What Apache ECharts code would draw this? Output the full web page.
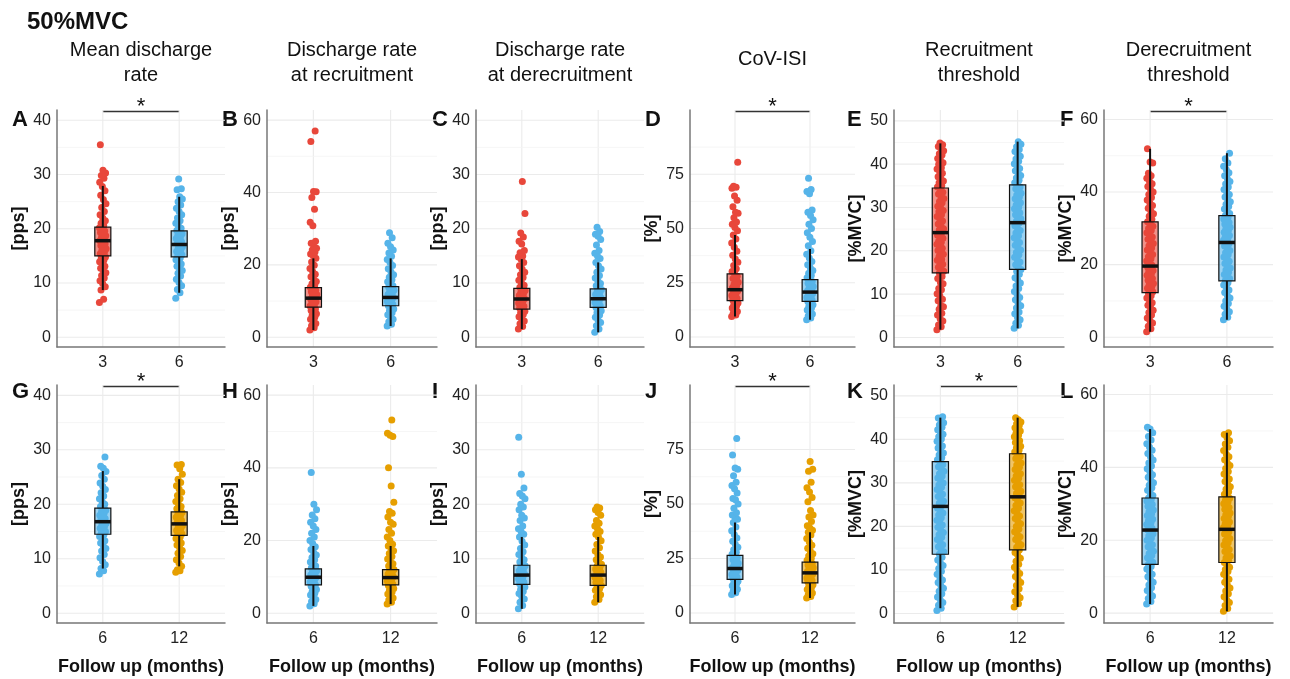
<!DOCTYPE html>
<html>
<head>
<meta charset="utf-8">
<script src="https://cdn.jsdelivr.net/npm/echarts@6/dist/echarts.min.js"></script>
<style>html,body{margin:0;padding:0;background:#fff}#main{width:1290px;height:679px}</style>
</head>
<body>
<div id="main"></div>
<script>
const myChart = echarts.init(document.getElementById('main'));
const FONT = '"Liberation Sans", Arial, Helvetica, sans-serif';

// panel letters, column titles, y axis units
const letters = ['A', 'B', 'C', 'D', 'E', 'F', 'G', 'H', 'I', 'J', 'K', 'L'];
const headers = ['Mean discharge\nrate', 'Discharge rate\nat recruitment', 'Discharge rate\nat derecruitment', 'CoV-ISI', 'Recruitment\nthreshold', 'Derecruitment\nthreshold'];
const yNames = ['[pps]', '[pps]', '[pps]', '[%]', '[%MVC]', '[%MVC]'];
const yTicks = [[0, 10, 20, 30, 40], [0, 20, 40, 60], [0, 10, 20, 30, 40], [0, 25, 50, 75], [0, 10, 20, 30, 40, 50], [0, 20, 40, 60]];
const yRanges = [[-1.8, 41.9], [-2.7, 62.8], [-1.8, 41.9], [-4.6, 104.6], [-2.2, 52.5], [-2.7, 62.6]];
const xLabelsTop = ['3', '6'];
const xLabelsBottom = ['6', '12'];
const sigPanels = ['A', 'D', 'F', 'G', 'J', 'K'];

// box stats: [lower whisker, Q1, median, Q3, upper whisker]
const boxA_3 = [8.7, 15.0, 17.8, 20.3, 27.9];
const boxA_6 = [8.2, 14.8, 17.1, 19.6, 25.9];
const boxB_3 = [2.0, 8.3, 10.8, 13.7, 21.8];
const boxB_6 = [3.1, 8.7, 11.0, 14.0, 21.8];
const boxC_3 = [1.5, 5.2, 7.05, 9.0, 14.4];
const boxC_6 = [0.9, 5.5, 7.1, 8.9, 13.8];
const boxD_3 = [9.5, 16.8, 21.8, 29.1, 47.0];
const boxD_6 = [8.0, 16.4, 20.7, 26.4, 40.5];
const boxE_3 = [1.8, 14.9, 24.2, 34.5, 44.8];
const boxE_6 = [2.1, 15.7, 26.5, 35.2, 45.2];
const boxF_3 = [1.5, 12.3, 19.6, 31.8, 51.9];
const boxF_6 = [4.8, 15.5, 26.1, 33.5, 50.7];
const boxG_6 = [8.2, 14.5, 16.8, 19.3, 26.1];
const boxG_12 = [8.6, 14.3, 16.4, 18.6, 24.6];
const boxH_6 = [2.0, 7.8, 9.9, 12.2, 18.5];
const boxH_12 = [2.5, 7.8, 9.8, 12.0, 18.5];
const boxI_6 = [0.8, 5.3, 7.0, 8.8, 14.0];
const boxI_12 = [2.0, 5.1, 7.0, 8.8, 14.0];
const boxJ_6 = [8.5, 15.4, 20.4, 26.4, 41.5];
const boxJ_12 = [6.9, 13.8, 18.4, 23.3, 37.0];
const boxK_6 = [1.2, 13.6, 24.6, 34.9, 45.0];
const boxK_12 = [1.5, 14.6, 26.8, 36.7, 45.0];
const boxL_6 = [2.5, 13.4, 22.8, 31.6, 50.5];
const boxL_12 = [0.5, 13.9, 23.0, 31.9, 49.5];

// motor unit values
const ptsA_3 = [6.4, 7.0, 8.7, 9.3, 9.9, 10.4, 10.9, 11.4, 11.9, 12.3, 12.7, 13.1, 13.5, 13.9, 14.2, 14.5, 14.8, 15.1, 15.4, 15.7, 16.0, 16.3, 16.6, 16.9, 17.2, 17.5, 17.8, 18.1, 18.4, 18.7, 19.0, 19.3, 19.6, 19.9, 20.2, 20.6, 21.0, 21.5, 22.0, 22.6, 23.2, 23.9, 24.6, 25.4, 26.2, 27.0, 27.8, 28.6, 29.3, 29.8, 30.3, 30.8, 35.5];
const ptsA_6 = [7.2, 8.2, 8.8, 9.5, 10.1, 10.7, 11.3, 11.8, 12.3, 12.7, 13.1, 13.5, 13.9, 14.3, 14.6, 14.9, 15.2, 15.5, 15.8, 16.1, 16.4, 16.7, 17.0, 17.3, 17.6, 17.9, 18.2, 18.5, 18.8, 19.1, 19.4, 19.7, 20.1, 20.5, 21.0, 21.5, 22.0, 22.6, 23.2, 23.8, 24.4, 25.0, 25.5, 25.9, 27.2, 27.4, 29.2];
const ptsB_3 = [2.0, 2.6, 3.2, 3.8, 4.4, 5.0, 5.5, 6.0, 6.5, 7.0, 7.4, 7.8, 8.2, 8.6, 9.0, 9.4, 9.8, 10.2, 10.6, 11.0, 11.4, 11.8, 12.2, 12.6, 13.0, 13.4, 13.8, 14.3, 14.8, 15.4, 16.0, 16.7, 17.4, 18.2, 19.0, 19.9, 20.8, 21.8, 22.5, 23.0, 23.5, 24.1, 24.6, 25.1, 26.0, 26.5, 30.8, 31.8, 35.4, 38.6, 40.2, 40.3, 54.1, 57.0];
const ptsB_6 = [3.1, 3.6, 4.3, 5.0, 5.6, 6.2, 6.8, 7.3, 7.8, 8.3, 8.7, 9.1, 9.5, 9.9, 10.3, 10.7, 11.0, 11.4, 11.8, 12.2, 12.6, 13.0, 13.4, 13.8, 14.2, 14.7, 15.3, 15.9, 16.6, 17.3, 18.1, 18.9, 19.8, 20.7, 21.5, 22.4, 23.3, 24.1, 25.0, 26.0, 27.5, 28.9];
const ptsC_3 = [1.5, 2.0, 2.5, 3.0, 3.4, 3.8, 4.2, 4.5, 4.8, 5.1, 5.4, 5.7, 6.0, 6.3, 6.6, 6.9, 7.1, 7.4, 7.7, 8.0, 8.3, 8.6, 8.9, 9.2, 9.6, 10.0, 10.5, 11.0, 11.5, 12.0, 12.6, 13.2, 13.8, 14.4, 14.8, 15.0, 15.6, 16.0, 17.2, 17.7, 18.5, 19.2, 22.8, 28.7];
const ptsC_6 = [0.9, 1.5, 2.1, 2.7, 3.2, 3.7, 4.1, 4.5, 4.9, 5.2, 5.5, 5.8, 6.1, 6.4, 6.7, 7.0, 7.3, 7.6, 7.9, 8.2, 8.5, 8.8, 9.1, 9.5, 9.9, 10.4, 10.9, 11.4, 12.0, 12.6, 13.2, 13.8, 14.5, 15.0, 15.5, 16.0, 17.0, 18.0, 18.6, 19.0, 19.5, 20.3];
const ptsD_3 = [9.5, 10.2, 11.0, 11.8, 12.6, 13.4, 14.2, 15.0, 15.7, 16.4, 17.0, 17.7, 18.4, 19.1, 19.8, 20.5, 21.2, 21.9, 22.7, 23.5, 24.3, 25.2, 26.1, 27.0, 28.0, 29.0, 30.2, 31.5, 32.9, 34.4, 36.0, 37.7, 39.5, 41.4, 43.3, 45.2, 47.0, 49.0, 50.5, 52.0, 53.0, 55.0, 57.0, 57.5, 60.0, 63.0, 65.0, 68.5, 69.0, 69.5, 80.5];
const ptsD_6 = [8.0, 8.8, 9.7, 10.6, 11.5, 12.4, 13.3, 14.1, 14.9, 15.7, 16.4, 17.0, 17.6, 18.2, 18.8, 19.4, 20.0, 20.6, 21.2, 21.9, 22.6, 23.3, 24.0, 24.8, 25.6, 26.4, 27.3, 28.3, 29.4, 30.6, 31.9, 33.3, 34.8, 36.4, 38.1, 39.8, 42.0, 44.0, 46.0, 48.0, 50.0, 52.0, 54.0, 56.0, 57.5, 58.5, 66.0, 67.0, 68.0, 73.2];
const ptsE_3 = [1.8, 2.5, 2.9, 3.8, 4.3, 5.2, 5.6, 6.5, 7.1, 7.4, 8.5, 8.8, 9.7, 10.1, 11.0, 11.3, 12.4, 12.7, 13.6, 14.1, 14.9, 15.3, 15.9, 16.2, 16.9, 17.1, 17.8, 18.0, 18.7, 19.2, 19.4, 20.1, 20.6, 20.8, 21.5, 22.0, 22.2, 22.9, 23.4, 23.6, 24.3, 24.8, 25.1, 25.9, 26.2, 26.9, 27.2, 27.9, 28.3, 29.0, 29.3, 30.0, 30.3, 31.1, 31.4, 32.1, 32.4, 33.1, 33.5, 34.2, 34.7, 35.0, 35.7, 36.1, 36.8, 37.1, 37.9, 38.2, 38.9, 39.2, 40.0, 40.3, 41.0, 41.3, 42.1, 42.4, 43.1, 43.6, 44.1, 44.5, 44.9];
const ptsE_6 = [2.1, 2.8, 3.3, 4.1, 4.6, 5.5, 5.9, 6.8, 7.3, 7.9, 8.7, 9.2, 10.0, 10.6, 11.3, 11.9, 12.6, 13.3, 13.8, 14.6, 15.2, 15.7, 16.3, 16.8, 17.4, 17.9, 18.5, 19.1, 19.6, 20.2, 20.7, 21.3, 21.9, 22.4, 23.0, 23.5, 24.1, 24.7, 25.2, 25.8, 26.4, 26.9, 27.4, 27.9, 28.3, 28.8, 29.2, 29.7, 30.1, 30.6, 31.1, 31.5, 32.0, 32.4, 32.9, 33.3, 33.8, 34.3, 34.7, 35.2, 35.7, 36.3, 36.8, 37.4, 37.9, 38.5, 39.0, 39.6, 40.1, 40.7, 41.2, 41.8, 42.3, 42.9, 43.4, 44.0, 44.6, 45.2];
const ptsF_3 = [1.5, 2.3, 3.0, 3.9, 4.6, 5.3, 6.1, 6.8, 7.4, 8.2, 8.8, 9.5, 10.1, 10.8, 11.4, 12.0, 12.5, 13.0, 13.5, 13.9, 14.4, 14.8, 15.3, 15.7, 16.2, 16.6, 17.1, 17.5, 18.0, 18.4, 18.9, 19.3, 19.8, 20.4, 21.0, 21.6, 22.2, 22.8, 23.4, 24.0, 24.6, 25.2, 25.8, 26.4, 27.0, 27.6, 28.2, 28.8, 29.4, 30.0, 30.6, 31.2, 31.8, 32.5, 33.3, 34.0, 34.8, 35.5, 36.3, 37.0, 37.8, 38.5, 39.3, 40.0, 40.8, 41.5, 42.3, 43.0, 43.8, 44.5, 45.2, 48.0, 48.3, 51.9];
const ptsF_6 = [4.8, 5.5, 6.3, 7.0, 7.8, 8.5, 9.3, 10.0, 10.8, 11.5, 12.3, 13.0, 13.7, 14.4, 15.0, 15.6, 16.2, 16.8, 17.3, 17.9, 18.5, 19.1, 19.7, 20.3, 20.9, 21.5, 22.1, 22.7, 23.3, 23.9, 24.5, 25.1, 25.7, 26.2, 26.7, 27.1, 27.6, 28.0, 28.5, 28.9, 29.4, 29.8, 30.3, 30.7, 31.2, 31.6, 32.1, 32.6, 33.0, 33.5, 34.1, 34.7, 35.3, 36.0, 36.6, 37.3, 38.0, 38.6, 39.3, 40.0, 40.7, 41.4, 42.2, 42.9, 43.7, 44.5, 45.3, 46.2, 47.1, 48.0, 49.2, 50.7];
const ptsG_6 = [7.2, 7.8, 8.2, 8.9, 9.5, 10.2, 10.8, 11.4, 11.9, 12.4, 12.9, 13.3, 13.7, 14.1, 14.4, 14.7, 15.0, 15.3, 15.6, 15.9, 16.2, 16.5, 16.8, 17.1, 17.4, 17.7, 18.0, 18.3, 18.6, 18.9, 19.2, 19.6, 20.0, 20.5, 21.0, 21.5, 22.1, 22.7, 23.3, 23.9, 24.6, 25.3, 26.0, 26.6, 27.0, 28.7];
const ptsG_12 = [7.5, 7.8, 8.0, 8.6, 9.2, 9.8, 10.4, 11.0, 11.5, 12.0, 12.5, 12.9, 13.3, 13.7, 14.0, 14.3, 14.6, 14.9, 15.2, 15.5, 15.8, 16.1, 16.4, 16.7, 17.0, 17.3, 17.6, 17.9, 18.2, 18.5, 18.8, 19.2, 19.6, 20.0, 20.5, 21.0, 21.6, 22.2, 22.8, 23.4, 24.0, 24.6, 25.5, 26.5, 27.2, 27.3];
const ptsH_6 = [2.0, 2.6, 3.2, 3.8, 4.4, 5.0, 5.5, 6.0, 6.5, 7.0, 7.4, 7.8, 8.2, 8.6, 9.0, 9.4, 9.8, 10.1, 10.5, 10.9, 11.3, 11.7, 12.1, 12.5, 13.0, 13.5, 14.1, 14.7, 15.3, 16.0, 16.7, 17.5, 18.3, 19.2, 20.0, 21.0, 22.0, 23.0, 24.0, 25.0, 26.0, 27.0, 28.5, 30.0, 38.7];
const ptsH_12 = [2.5, 3.0, 3.6, 4.2, 4.8, 5.3, 5.8, 6.3, 6.8, 7.2, 7.6, 8.0, 8.4, 8.8, 9.2, 9.6, 10.0, 10.4, 10.8, 11.2, 11.6, 12.0, 12.5, 13.0, 13.6, 14.2, 14.9, 15.6, 16.4, 17.2, 18.0, 18.5, 19.0, 20.0, 21.0, 22.0, 23.0, 24.5, 25.0, 26.5, 27.5, 28.0, 30.5, 35.0, 40.0, 48.6, 49.0, 49.5, 53.2];
const ptsI_6 = [0.8, 1.4, 2.0, 2.6, 3.1, 3.6, 4.0, 4.4, 4.8, 5.1, 5.4, 5.7, 6.0, 6.3, 6.6, 6.9, 7.2, 7.5, 7.8, 8.1, 8.4, 8.7, 9.0, 9.4, 9.8, 10.3, 10.8, 11.3, 11.9, 12.5, 13.2, 14.0, 14.5, 15.0, 15.5, 16.0, 17.0, 17.5, 18.0, 19.0, 19.5, 20.0, 21.0, 21.5, 22.0, 23.0, 25.5, 32.3];
const ptsI_12 = [2.0, 2.5, 3.0, 3.4, 3.8, 4.2, 4.5, 4.8, 5.1, 5.4, 5.7, 6.0, 6.3, 6.6, 6.9, 7.2, 7.5, 7.8, 8.1, 8.4, 8.7, 9.0, 9.4, 9.8, 10.3, 10.8, 11.4, 12.0, 12.6, 13.3, 14.0, 14.5, 15.0, 15.5, 16.0, 16.5, 17.0, 18.0, 18.5, 19.0, 19.3, 19.5];
const ptsJ_6 = [8.5, 9.3, 10.1, 10.9, 11.7, 12.5, 13.2, 13.9, 14.6, 15.3, 15.9, 16.5, 17.1, 17.7, 18.3, 18.9, 19.5, 20.1, 20.7, 21.4, 22.1, 22.8, 23.6, 24.4, 25.2, 26.0, 26.9, 27.9, 29.0, 30.2, 31.5, 32.9, 34.4, 36.0, 37.7, 39.5, 41.5, 43.0, 44.0, 45.0, 46.0, 48.0, 50.0, 52.0, 52.5, 55.0, 57.0, 58.5, 60.0, 63.0, 66.0, 66.5, 72.5, 80.0];
const ptsJ_12 = [6.9, 7.6, 8.4, 9.2, 10.0, 10.8, 11.6, 12.3, 13.0, 13.7, 14.3, 14.9, 15.5, 16.0, 16.6, 17.2, 17.8, 18.4, 19.0, 19.6, 20.2, 20.8, 21.4, 22.0, 22.7, 23.4, 24.2, 25.1, 26.1, 27.2, 28.4, 29.7, 31.1, 32.6, 34.2, 35.8, 37.0, 38.0, 39.0, 40.0, 42.0, 44.0, 45.0, 47.0, 51.0, 53.0, 55.5, 57.5, 60.0, 65.0, 66.0, 69.5];
const ptsK_6 = [0.7, 1.2, 1.9, 2.5, 3.2, 3.8, 4.5, 5.1, 5.8, 6.4, 7.1, 7.7, 8.4, 9.0, 9.7, 10.3, 11.0, 11.6, 12.3, 12.9, 13.6, 14.2, 14.7, 15.3, 15.8, 16.4, 17.0, 17.5, 18.1, 18.6, 19.2, 19.8, 20.3, 20.9, 21.4, 22.0, 22.6, 23.1, 23.7, 24.2, 24.8, 25.3, 25.8, 26.4, 26.9, 27.4, 27.9, 28.5, 29.0, 29.5, 30.0, 30.6, 31.1, 31.6, 32.1, 32.7, 33.2, 33.7, 34.2, 34.8, 35.3, 35.8, 36.4, 36.9, 37.4, 38.0, 38.5, 39.0, 39.6, 40.1, 40.6, 41.2, 41.7, 42.2, 42.8, 43.3, 43.8, 44.4, 44.9, 45.2];
const ptsK_12 = [1.5, 2.2, 2.9, 3.6, 4.3, 5.0, 5.7, 6.4, 7.1, 7.8, 8.5, 9.2, 9.9, 10.6, 11.3, 12.0, 12.7, 13.4, 14.0, 14.6, 15.2, 15.8, 16.4, 17.0, 17.6, 18.2, 18.8, 19.4, 20.0, 20.6, 21.2, 21.8, 22.4, 23.0, 23.6, 24.2, 24.8, 25.4, 26.0, 26.6, 27.1, 27.6, 28.1, 28.6, 29.1, 29.6, 30.1, 30.6, 31.1, 31.6, 32.1, 32.6, 33.1, 33.6, 34.1, 34.6, 35.1, 35.6, 36.1, 36.7, 37.1, 37.5, 38.0, 38.4, 38.8, 39.3, 39.7, 40.1, 40.6, 41.0, 41.4, 41.9, 42.3, 42.7, 43.2, 43.6, 44.0, 44.5, 45.0];
const ptsL_6 = [2.5, 3.2, 4.0, 4.7, 5.5, 6.2, 7.0, 7.7, 8.5, 9.2, 10.0, 10.7, 11.4, 12.1, 12.8, 13.4, 14.0, 14.6, 15.2, 15.8, 16.4, 17.0, 17.6, 18.2, 18.8, 19.4, 20.0, 20.6, 21.2, 21.8, 22.4, 22.8, 23.3, 23.8, 24.3, 24.8, 25.3, 25.8, 26.3, 26.8, 27.3, 27.8, 28.3, 28.8, 29.3, 29.8, 30.3, 30.8, 31.2, 31.6, 32.3, 33.0, 33.7, 34.4, 35.1, 35.8, 36.5, 37.3, 38.0, 38.8, 39.6, 40.4, 41.2, 42.0, 42.9, 43.8, 44.7, 45.6, 46.5, 47.5, 48.5, 49.5, 50.5, 51.0];
const ptsL_12 = [0.5, 1.3, 2.1, 2.9, 3.7, 4.5, 5.3, 6.1, 6.9, 7.7, 8.5, 9.3, 10.0, 10.7, 11.4, 12.0, 12.6, 13.2, 13.9, 14.5, 15.1, 15.7, 16.3, 16.9, 17.5, 18.1, 18.7, 19.3, 19.9, 20.5, 21.1, 21.7, 22.3, 22.9, 23.5, 24.0, 24.5, 25.0, 25.5, 26.0, 26.5, 27.0, 27.5, 28.0, 28.5, 29.0, 29.5, 30.0, 30.5, 31.0, 31.5, 31.9, 32.6, 33.3, 34.0, 34.7, 35.4, 36.1, 36.8, 37.5, 38.2, 38.9, 39.7, 40.5, 41.3, 42.1, 42.9, 43.7, 44.6, 45.5, 46.4, 47.3, 48.2, 49.0, 49.5];

const panelPts = [
  [ptsA_3, ptsA_6], [ptsB_3, ptsB_6], [ptsC_3, ptsC_6], [ptsD_3, ptsD_6], [ptsE_3, ptsE_6], [ptsF_3, ptsF_6],
  [ptsG_6, ptsG_12], [ptsH_6, ptsH_12], [ptsI_6, ptsI_12], [ptsJ_6, ptsJ_12], [ptsK_6, ptsK_12], [ptsL_6, ptsL_12]
];
const panelBox = [
  [boxA_3, boxA_6], [boxB_3, boxB_6], [boxC_3, boxC_6], [boxD_3, boxD_6], [boxE_3, boxE_6], [boxF_3, boxF_6],
  [boxG_6, boxG_12], [boxH_6, boxH_12], [boxI_6, boxI_12], [boxJ_6, boxJ_12], [boxK_6, boxK_12], [boxL_6, boxL_12]
];

// layout
const colLeft = [57, 267, 476, 690, 894, 1104];
const colWidth = [168, 170, 168, 165, 170, 169];
const rowTop = [110, 385];
const rowHeight = [237, 238];
const letterX = [12, 222, 432, 645, 847, 1060];
const RED = '#E8473B', BLUE = '#56B4E9', ORANGE = '#E69F00';
const rowColors = [[RED, BLUE], [BLUE, ORANGE]];

// horizontal jitter of the points (position only)
const jit = i => (((i * 0.618034) % 1) - 0.5) * 0.09;

function makeRenderBox(colors) {
  return function (params, api) {
    const x = api.value(0);
    const lo = api.coord([x, api.value(1)]);
    const q1 = api.coord([x, api.value(2)]);
    const md = api.coord([x, api.value(3)]);
    const q3 = api.coord([x, api.value(4)]);
    const hi = api.coord([x, api.value(5)]);
    const hw = api.size([0.21, 0])[0] / 2;
    const ink = '#111';
    const fill = echarts.color.modifyAlpha(colors[params.dataIndex], 0.6);
    return {
      type: 'group',
      children: [
        { type: 'line', shape: { x1: hi[0], y1: hi[1], x2: q3[0], y2: q3[1] }, style: { stroke: ink, lineWidth: 2 } },
        { type: 'line', shape: { x1: q1[0], y1: q1[1], x2: lo[0], y2: lo[1] }, style: { stroke: ink, lineWidth: 2 } },
        { type: 'rect', shape: { x: q3[0] - hw, y: q3[1], width: hw * 2, height: q1[1] - q3[1] }, style: { fill: fill, stroke: ink, lineWidth: 1.2 } },
        { type: 'line', shape: { x1: md[0] - hw, y1: md[1], x2: md[0] + hw, y2: md[1] }, style: { stroke: ink, lineWidth: 3.5 } }
      ]
    };
  };
}

function renderGridLine(params, api) {
  const cs = params.coordSys;
  const orient = api.value(0), v = api.value(1), major = api.value(2);
  const style = { stroke: major ? '#EBEBEB' : '#F4F4F4', lineWidth: major ? 1.1 : 0.8 };
  if (orient === 0) {
    const y = api.coord([1, v])[1];
    return { type: 'line', shape: { x1: cs.x, y1: y, x2: cs.x + cs.width, y2: y }, style };
  }
  const x = api.coord([v, 0])[0];
  return { type: 'line', shape: { x1: x, y1: cs.y, x2: x, y2: cs.y + cs.height }, style };
}

const grids = [], xAxes = [], yAxes = [], series = [];
for (let p = 0; p < 12; p++) {
  const row = Math.floor(p / 6), col = p % 6;
  const ticks = yTicks[col];
  const [ymin, ymax] = yRanges[col];
  grids.push({ left: colLeft[col], top: rowTop[row], width: colWidth[col], height: rowHeight[row] });
  const xl = row === 0 ? xLabelsTop : xLabelsBottom;
  xAxes.push({
    gridIndex: p, type: 'value', min: 0.4, max: 2.6,
    axisLine: { onZero: false, lineStyle: { color: '#777', width: 1.5 } },
    axisTick: { show: false },
    splitLine: { show: false },
    axisLabel: { customValues: [1, 2], formatter: v => (v === 1 ? xl[0] : xl[1]), fontSize: 16, color: '#222', margin: 8, fontFamily: FONT },
    name: row === 1 ? 'Follow up (months)' : '', nameLocation: 'middle', nameGap: 35,
    nameTextStyle: { fontSize: 18, fontWeight: 'bold', color: '#111', fontFamily: FONT }
  });
  yAxes.push({
    gridIndex: p, type: 'value', min: ymin, max: ymax,
    axisLine: { show: true, onZero: false, lineStyle: { color: '#777', width: 1.5 } },
    axisTick: { show: false },
    splitLine: { show: false },
    axisLabel: { customValues: ticks, fontSize: 16, color: '#222', margin: 6, fontFamily: FONT },
    name: yNames[col], nameLocation: 'middle', nameGap: 29,
    nameTextStyle: { fontSize: 18, fontWeight: 'bold', color: '#111', fontFamily: FONT }
  });
  // grid lines from the tick list: majors, minors half-way between
  const lines = [[1, 1, 1], [1, 2, 1]];
  const step = ticks[1] - ticks[0];
  ticks.forEach(t => {
    lines.push([0, t, 1]);
    if (t + step / 2 < ymax) lines.push([0, t + step / 2, 0]);
  });
  series.push({ type: 'custom', xAxisIndex: p, yAxisIndex: p, z: 0, silent: true, renderItem: renderGridLine, data: lines });
  panelPts[p].forEach((vals, g) => {
    series.push({
      type: 'scatter', xAxisIndex: p, yAxisIndex: p, z: 2, silent: true,
      symbolSize: 7, itemStyle: { color: rowColors[row][g], opacity: 1 },
      data: vals.map((v, i) => [g + 1 + jit(i), v])
    });
  });
  series.push({
    type: 'custom', xAxisIndex: p, yAxisIndex: p, z: 3, silent: true, renderItem: makeRenderBox(rowColors[row]),
    data: panelBox[p].map((b, g) => [g + 1].concat(b))
  });
}

const statics = [
  { type: 'text', x: 27, y: 22, style: { text: '50%MVC', font: 'bold 24px ' + FONT, fill: '#111', align: 'left', verticalAlign: 'middle' } }
];
headers.forEach((h, c) => {
  const twoLine = h.indexOf('\n') >= 0;
  statics.push({ type: 'text', x: colLeft[c] + colWidth[c] / 2, y: twoLine ? 62.5 : 59,
    style: { text: h, font: '20px ' + FONT, fill: '#111', align: 'center', verticalAlign: 'middle', lineHeight: 25 } });
});
letters.forEach((l, p) => {
  const row = Math.floor(p / 6), col = p % 6;
  statics.push({ type: 'text', x: letterX[col], y: row === 0 ? 119.5 : 392,
    style: { text: l, font: 'bold 22px ' + FONT, fill: '#111', align: 'left', verticalAlign: 'middle' } });
});

const option = {
  animation: false,
  backgroundColor: '#fff',
  textStyle: { fontFamily: FONT },
  grid: grids,
  xAxis: xAxes,
  yAxis: yAxes,
  series: series,
  graphic: statics
};
myChart.setOption(option);

// significance bars
const sigs = [];
sigPanels.forEach(l => {
  const p = letters.indexOf(l), row = Math.floor(p / 6);
  const a = myChart.convertToPixel({ xAxisIndex: p, yAxisIndex: p }, [1, 0]);
  const b = myChart.convertToPixel({ xAxisIndex: p, yAxisIndex: p }, [2, 0]);
  const y = rowTop[row] + 1.5;
  sigs.push({ type: 'line', shape: { x1: a[0], y1: y, x2: b[0], y2: y }, style: { stroke: '#333', lineWidth: 1.5 } });
  sigs.push({ type: 'text', x: (a[0] + b[0]) / 2, y: y - 5, style: { text: '*', font: '22px ' + FONT, fill: '#111', align: 'center', verticalAlign: 'middle' } });
});
myChart.setOption({ graphic: statics.concat(sigs) });
</script>
</body>
</html>
